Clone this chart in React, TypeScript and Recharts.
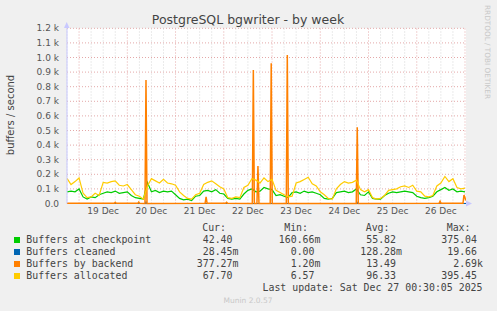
import { type FC } from "react";
import {
  ComposedChart,
  Line,
  XAxis,
  YAxis,
  CartesianGrid,
  ReferenceLine,
} from "recharts";

// sample times, hours since 19 Dec 00:00
const sampleHours = [
  -6, -4, -2, 0, 2, 4, 6, 8, 10, 12, 14, 16, 18, 20, 22, 24, 26, 28, 30, 32,
  34, 36, 38, 40, 42, 44, 46, 48, 50, 52, 54, 56, 58, 60, 62, 64, 66, 68, 70,
  72, 74, 76, 78, 80, 82, 84, 86, 88, 90, 92, 94, 96, 98, 100, 102, 104, 106,
  108, 110, 112, 114, 116, 118, 120, 122, 124, 126, 128, 130, 132, 134, 136,
  138, 140, 142, 144, 146, 148, 150, 152, 154, 156, 158, 160, 162, 164, 166,
  168, 170, 172, 174, 176, 178, 180, 182, 184, 186, 188, 190, 192,
];

const checkpoint = [
  80, 85, 80, 100, 45, 30, 45, 40, 60, 70, 80, 75, 85, 70, 75, 80, 55, 40, 35,
  30, 145, 80, 90, 75, 85, 80, 85, 60, 35, 25, 30, 20, 50, 55, 85, 90, 80, 95,
  70, 65, 35, 30, 35, 30, 65, 90, 100, 80, 85, 110, 100, 95, 55, 60, 50, 40,
  75, 80, 70, 85, 75, 80, 70, 60, 35, 30, 35, 75, 80, 85, 75, 80, 100, 60, 55,
  80, 35, 30, 30, 55, 70, 80, 75, 80, 85, 80, 75, 50, 40, 35, 40, 50, 80, 95,
  110, 90, 100, 80, 85, 80,
];

const allocated = [
  172, 130, 150, 175, 70, 40, 45, 70, 55, 145, 140, 150, 155, 125, 120, 130, 95,
  60, 50, 30, 120, 170, 155, 140, 165, 140, 135, 125, 80, 55, 35, 30, 60, 70,
  130, 145, 155, 135, 115, 100, 40, 35, 45, 40, 110, 125, 170, 160, 140, 175,
  150, 165, 90, 75, 60, 45, 50, 140, 150, 165, 180, 135, 120, 80, 60, 35, 30,
  100, 130, 150, 140, 145, 160, 95, 80, 95, 40, 30, 35, 55, 90, 95, 100, 115,
  120, 110, 125, 85, 80, 50, 45, 55, 120, 140, 185, 150, 170, 110, 100, 105,
];

// buffers written directly by backends: [hour, value]
const backend: [number, number][] = [
  [-6, 1], [17.5, 1], [18, 8], [18.5, 1], [29.2, 1], [29.7, 10], [30.2, 1],
  [32.8, 0], [33.3, 846], [33.8, 0], [62.7, 1], [63.2, 46], [63.7, 1],
  [72.9, 1], [73.4, 8], [73.9, 1], [86.2, 0], [86.7, 914], [87.2, 0],
  [88.5, 0], [89, 257], [89.5, 0], [95.1, 0], [95.6, 960], [96.1, 0],
  [103.1, 0], [103.6, 1017], [104.1, 0], [137.9, 0], [138.4, 522], [138.9, 0],
  [179.1, 1], [179.6, 15], [180.1, 1], [191, 1], [191.5, 58], [192.5, 20],
];

const cleaned: [number, number][] = [
  [-6, 0], [33, 0], [33.3, 10], [33.6, 0], [138.2, 0], [138.4, 6], [138.6, 0],
  [192.5, 0],
];

const dayNoons = [12, 36, 60, 84, 108, 132, 156, 180];
const dayLabels = ["19 Dec", "20 Dec", "21 Dec", "22 Dec", "23 Dec", "24 Dec", "25 Dec", "26 Dec"];
const midnights = [0, 24, 48, 72, 96, 120, 144, 168, 192];
const quarterHours = [
  -6, 6, 12, 18, 30, 36, 42, 54, 60, 66, 78, 84, 90, 102, 108, 114, 126, 132,
  138, 150, 156, 162, 174, 180, 186,
];
const yTicks = [0, 100, 200, 300, 400, 500, 600, 700, 800, 900, 1000, 1100, 1200];
const yTickLabels = ["0.0", "0.1 k", "0.2 k", "0.3 k", "0.4 k", "0.5 k", "0.6 k", "0.7 k", "0.8 k", "0.9 k", "1.0 k", "1.1 k", "1.2 k"];

const legendNames = ["Buffers at checkpoint", "Buffers cleaned", "Buffers by backend", "Buffers allocated"];
const legendColors = ["#00CC00", "#0066B3", "#FF8000", "#FFCC00"];
const curValues = ["42.40", "28.45m", "377.27m", "67.70"];
const minValues = ["160.66m", "0.00", "1.20m", "6.57"];
const avgValues = ["55.82", "128.28m", "13.49", "96.33"];
const maxValues = ["375.04", "19.66", "2.69k", "395.45"];

const table = sampleHours.map((h, i) => ({
  h,
  checkpoint: checkpoint[i],
  allocated: allocated[i],
}));
const backendData = backend.map(([h, v]) => ({ h, backend: v }));
const cleanedData = cleaned.map(([h, v]) => ({ h, cleaned: v }));

const mono = "'DejaVu Sans Mono', monospace";
const sans = "'DejaVu Sans', sans-serif";

const Cell: FC<{ x: number; y: number; value: string }> = ({ x, y, value }) => {
  const m = value.match(/^([\d.]+)([a-zA-Z]?)$/);
  const num = m ? m[1] : value;
  const suf = m ? m[2] : "";
  return (
    <>
      <text x={x} y={y} textAnchor="end">{num}</text>
      {suf && <text x={x} y={y}>{suf}</text>}
    </>
  );
};

const Overlay: FC = () => {
  const cols = [232.5, 314.5, 396, 477];
  const heads = ["Cur:", "Min:", "Avg:", "Max:"];
  const headEnds = [226, 308, 389.5, 470.5];
  const rows = [curValues, minValues, avgValues, maxValues];
  return (
    <svg
      width={497}
      height={311}
      style={{ position: "absolute", left: 0, top: 0, pointerEvents: "none" }}
    >
      <text x={248} y={24} textAnchor="middle" fontFamily={sans} fontSize={12.5} fill="#444">
        PostgreSQL bgwriter - by week
      </text>
      <text
        transform="translate(14,115) rotate(-90)"
        textAnchor="middle"
        fontFamily={sans}
        fontSize={10}
        fill="#444"
      >
        buffers / second
      </text>
      <text
        transform="translate(485,5) rotate(90)"
        fontFamily={sans}
        fontSize={7.3}
        fill="#C8C8C8"
      >
        RRDTOOL / TOBI OETIKER
      </text>
      {/* axis arrows */}
      <polygon points="64,28 69.5,28 66.7,22" fill="#C8C8FF" />
      <polygon points="466,200.5 466,206.5 472,203.5" fill="#C8C8FF" />

      <g fontFamily={mono} fontSize={9.9} fill="#444">
        {heads.map((t, i) => (
          <text key={t} x={headEnds[i]} y={230.5} textAnchor="end">{t}</text>
        ))}
        {legendNames.map((name, r) => (
          <g key={name}>
            <rect x={14} y={237 + r * 12} width={6} height={6} fill={legendColors[r]} />
            <text x={26.3} y={243 + r * 12}>{name}</text>
            {rows.map((vals, c) => (
              <Cell key={c} x={cols[c]} y={243 + r * 12} value={vals[r]} />
            ))}
          </g>
        ))}
        <text x={482.5} y={291} textAnchor="end">Last update: Sat Dec 27 00:30:05 2025</text>
      </g>
      <text x={248} y={303} textAnchor="middle" fontFamily={sans} fontSize={7.5} fill="#C8C8C8">
        Munin 2.0.57
      </text>
    </svg>
  );
};

export default function App() {
  return (
    <div
      style={{
        position: "absolute",
        left: 0,
        top: 0,
        width: 497,
        height: 311,
        background: "#F0F0F0",
      }}
    >
      <ComposedChart
        width={497}
        height={311}
        data={table}
        margin={{ top: 28.3, right: 31, left: 7, bottom: 77.5 }}
        style={{ position: "absolute", left: 0, top: 0 }}
      >
        <CartesianGrid
          fill="#FFFFFF"
          vertical={false}
          stroke="#E4A8A8"
          strokeDasharray="1 2"
        />
        {quarterHours.map((h) => (
          <ReferenceLine key={"q" + h} x={h} stroke="#D6D6D6" strokeDasharray="1 2" />
        ))}
        {midnights.map((h) => (
          <ReferenceLine key={"m" + h} x={h} stroke="#E4A8A8" strokeDasharray="1 2" />
        ))}
        <XAxis
          dataKey="h"
          type="number"
          domain={[-6, 192.5]}
          allowDataOverflow
          ticks={dayNoons}
          interval={0}
          tickFormatter={(v: number) => dayLabels[dayNoons.indexOf(v)]}
          axisLine={false}
          tickLine={false}
          tickSize={0}
          tickMargin={4}
          height={30}
          tick={{ fontSize: 9, fill: "#555", fontFamily: sans }}
        />
        <YAxis
          type="number"
          domain={[0, 1200]}
          ticks={yTicks}
          interval={0}
          tickFormatter={(v: number) => yTickLabels[yTicks.indexOf(v)]}
          width={60}
          axisLine={{ stroke: "#C8C8FF" }}
          tickLine={false}
          tickSize={0}
          tickMargin={8}
          tick={{ fontSize: 9, fill: "#555", fontFamily: sans }}
        />
        <Line
          dataKey="checkpoint"
          stroke="#00CC00"
          strokeWidth={1.2}
          dot={false}
          isAnimationActive={false}
          type="linear"
        />
        <Line
          data={cleanedData}
          dataKey="cleaned"
          stroke="#0066B3"
          strokeWidth={1.2}
          dot={false}
          isAnimationActive={false}
          type="linear"
        />
        <Line
          data={backendData}
          dataKey="backend"
          stroke="#FF8000"
          strokeWidth={1.5}
          dot={false}
          isAnimationActive={false}
          type="linear"
        />
        <Line
          dataKey="allocated"
          stroke="#FFCC00"
          strokeWidth={1.2}
          dot={false}
          isAnimationActive={false}
          type="linear"
        />
      </ComposedChart>
      <Overlay />
    </div>
  );
}
